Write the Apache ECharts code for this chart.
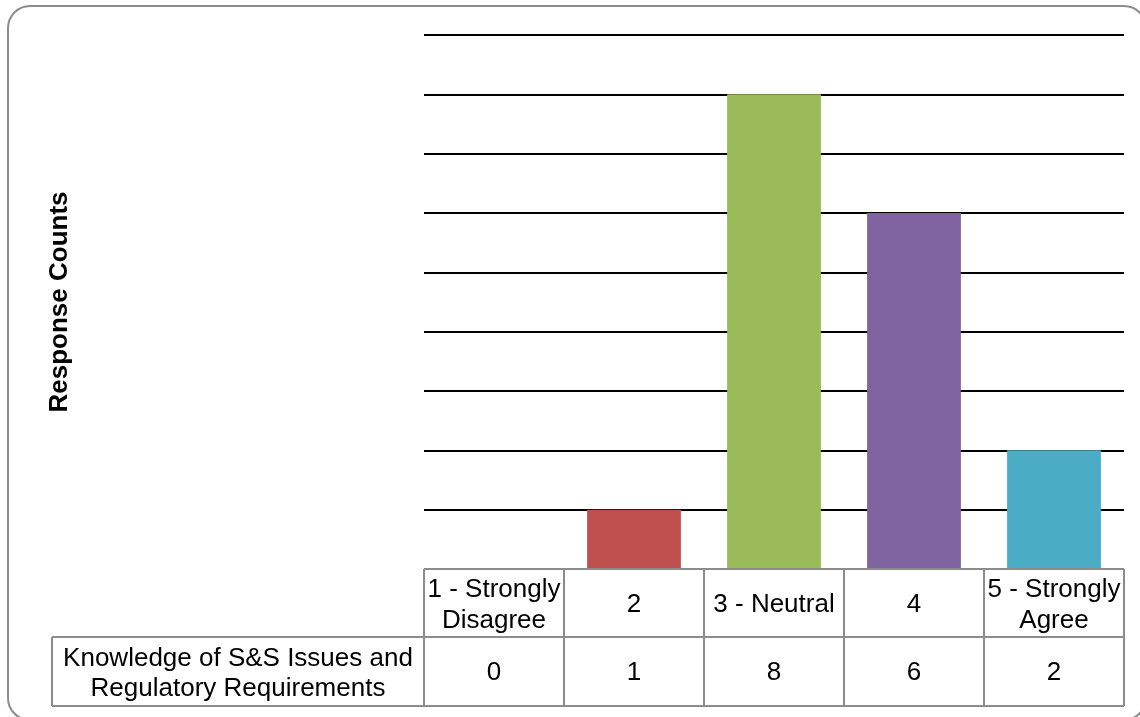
<!DOCTYPE html>
<html>
<head>
<meta charset="utf-8">
<script src="https://cdn.jsdelivr.net/npm/echarts@6/dist/echarts.min.js"></script>
<style>
  html, body { margin: 0; padding: 0; background: #fff; }
  #chart { width: 1140px; height: 717px; }
</style>
</head>
<body>
<div id="chart"></div>
<script>
// Survey responses for one statement on a 1–5 agreement scale
const categories = ['1 - Strongly\nDisagree', '2', '3 - Neutral', '4', '5 - Strongly\nAgree'];
const seriesName = 'Knowledge of S&S Issues and\nRegulatory Requirements';
const counts = [0, 1, 8, 6, 2];
const barColors = ['#4F81BD', '#C0504D', '#9BBB59', '#8064A2', '#4BACC6'];
const yAxisTitle = 'Response Counts';

const W = 1140, H = 717;
const gridLeft = 424, gridRight = 16, gridTop = 35, gridBottom = 148;
const font = '"Liberation Sans", Arial, sans-serif';
const tableBorder = '#8c8c8c';

const chart = echarts.init(document.getElementById('chart'), null, { renderer: 'canvas' });

function tableGraphics() {
  const x0 = gridLeft, x1 = W - gridRight;
  const yTop = H - gridBottom;        // top of the data table
  const yMid = yTop + 68;
  const yBot = yMid + 69;
  const labelLeft = 52;
  const colW = (x1 - x0) / categories.length;
  const els = [];
  const line = (ax, ay, bx, by) => els.push({
    type: 'line', z: 20,
    shape: { x1: ax, y1: ay, x2: bx, y2: by },
    style: { stroke: tableBorder, lineWidth: 2 }
  });
  // horizontal rules
  line(x0, yTop, x1, yTop);
  line(labelLeft, yMid, x1, yMid);
  line(labelLeft, yBot, x1, yBot);
  // vertical rules
  for (let i = 0; i <= categories.length; i++) {
    line(x0 + i * colW, yTop, x0 + i * colW, yBot);
  }
  line(labelLeft, yMid, labelLeft, yBot);
  // header + value cells
  categories.forEach((c, i) => {
    const cx = x0 + (i + 0.5) * colW;
    els.push({
      type: 'text', z: 21, x: cx, y: (yTop + yMid) / 2 + 2,
      style: { text: c, font: '26px ' + font, fill: '#000', align: 'center',
               verticalAlign: 'middle', lineHeight: 31 }
    });
    els.push({
      type: 'text', z: 21, x: cx, y: (yMid + yBot) / 2 + 1,
      style: { text: String(counts[i]), font: '26px ' + font, fill: '#000',
               align: 'center', verticalAlign: 'middle' }
    });
  });
  // row label
  els.push({
    type: 'text', z: 21, x: (labelLeft + x0) / 2, y: (yMid + yBot) / 2 + 2,
    style: { text: seriesName, font: '26px ' + font, fill: '#000', align: 'center',
             verticalAlign: 'middle', lineHeight: 30 }
  });
  // chart frame with rounded corners
  els.push({
    type: 'rect', z: 0,
    shape: { x: 8, y: 6, width: 1138, height: 714, r: 22 },
    style: { fill: 'none', stroke: '#8c8c8c', lineWidth: 2 }
  });
  // axis title
  els.push({
    type: 'text', z: 21, x: 60, y: (gridTop + yTop) / 2, rotation: Math.PI / 2,
    style: { text: yAxisTitle, font: 'bold 26px ' + font, fill: '#000',
             align: 'center', verticalAlign: 'middle' }
  });
  return els;
}

chart.setOption({
  animation: false,
  backgroundColor: '#fff',
  grid: { left: gridLeft, right: gridRight, top: gridTop, bottom: gridBottom, containLabel: false },
  xAxis: {
    type: 'category',
    data: categories,
    axisLine: { show: false },
    axisTick: { show: false },
    axisLabel: { show: false }
  },
  yAxis: {
    type: 'value',
    min: 0, max: 9, interval: 1,
    axisLine: { show: false },
    axisTick: { show: false },
    axisLabel: { show: false },
    splitLine: { lineStyle: { color: '#000', width: 2 } }
  },
  series: [{
    type: 'bar',
    name: seriesName,
    data: counts.map((v, i) => ({ value: v, itemStyle: { color: barColors[i] } })),
    barWidth: '67%'
  }],
  graphic: tableGraphics()
});
</script>
</body>
</html>
